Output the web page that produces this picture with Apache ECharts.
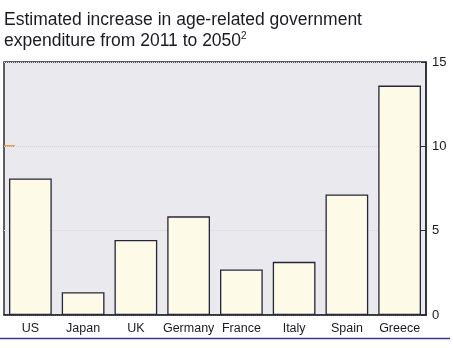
<!DOCTYPE html>
<html><head><meta charset="utf-8">
<script src="https://cdn.jsdelivr.net/npm/echarts@6/dist/echarts.min.js"></script>
<style>html,body{margin:0;padding:0;background:#fff}#c{width:453px;height:348px}</style>
</head><body><div id="c"></div>
<script>
const categories = ['US','Japan','UK','Germany','France','Italy','Spain','Greece'];
const values = [8.1, 1.35, 4.45, 5.85, 2.7, 3.15, 7.15, 13.6];
const yTicks = [0, 5, 10, 15];

const chart = echarts.init(document.getElementById('c'));
chart.setOption({
  animation: false,
  backgroundColor: '#ffffff',
  title: {
    text: 'Estimated increase in age-related government\nexpenditure from 2011 to 2050{s|2}',
    left: 4, top: 10, padding: 0,
    textStyle: {
      fontFamily: 'Liberation Sans, Arial, sans-serif', fontSize: 17.5, fontWeight: 'normal',
      color: '#1a1a22', lineHeight: 21,
      rich: { s: { fontSize: 10, verticalAlign: 'top', color: '#1a1a22', padding: [0,0,8,0], fontFamily: 'Liberation Sans, Arial, sans-serif' } }
    }
  },
  grid: { left: 4, right: 27, top: 62, bottom: 33, show: true, backgroundColor: '#e9e9ee', borderColor: '#2a2a33', borderWidth: 1.5 },
  xAxis: {
    type: 'category', data: categories,
    axisLine: { show: true, lineStyle: { color: '#2a2a33', width: 1.5 } },
    axisTick: { show: false },
    axisLabel: { color: '#1a1a22', fontSize: 12.5, fontFamily: 'Liberation Sans, Arial, sans-serif', margin: 7, interval: 0 }
  },
  yAxis: {
    type: 'value', position: 'right', min: 0, max: 15, interval: 5,
    axisLine: { show: true, lineStyle: { color: '#2a2a33', width: 1.5 } },
    axisTick: { show: true, inside: true, length: 5, lineStyle: { color: '#2a2a33' } },
    axisLabel: { color: '#1a1a22', fontSize: 13, fontFamily: 'Liberation Sans, Arial, sans-serif', margin: 6,
      formatter: v => yTicks.includes(v) ? String(v) : '' },
    splitLine: { show: true, lineStyle: { color: '#d8d0dc', type: 'dotted', width: 1 } }
  },
  series: [{
    type: 'bar', data: values, barCategoryGap: '19%',
    itemStyle: { color: '#fdfbe8', borderColor: '#26263a', borderWidth: 1.3 }
  }],
  graphic: [
    { type: 'line', shape: { x1: 0, y1: 338.5, x2: 450, y2: 338.5 }, style: { stroke: '#3a3a8a', lineWidth: 1.5 } },
    { type: 'line', shape: { x1: 4, y1: 146, x2: 15, y2: 146 }, style: { stroke: '#d09020', lineWidth: 1.5 } }
  ]
});
</script></body></html>
